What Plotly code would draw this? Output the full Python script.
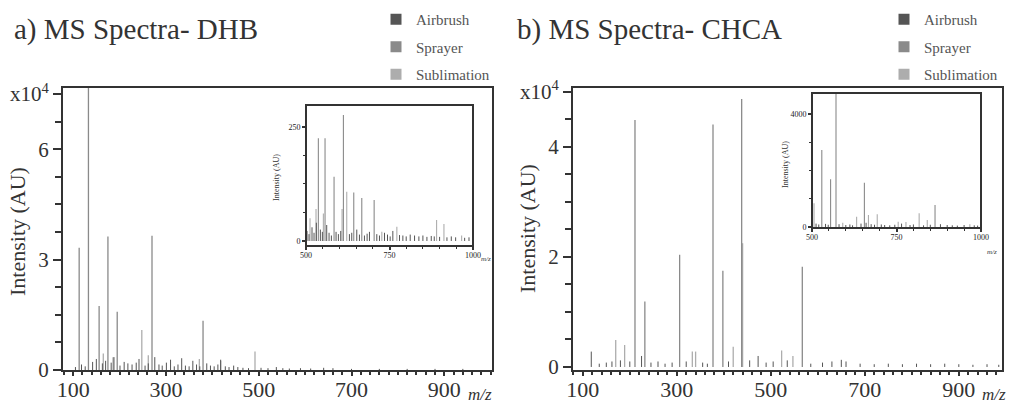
import plotly.graph_objects as go

W, H = 1012, 404
FONT = "Liberation Serif"
INK = "#333333"
C_AIR, C_SPR, C_SUB = "#555555", "#8a8a8a", "#adadad"

# ---------------- data (panel a: DHB, intensities x1e4) ----------------
a_spr_mz = [113, 133, 156, 175, 195, 270, 380]
a_spr_int = [3.32, 8.5, 1.74, 3.63, 1.58, 3.65, 1.34]
a_sub_mz = [165, 186, 248, 262, 492, 372, 418]
a_sub_int = [0.45, 0.35, 1.09, 0.40, 0.50, 0.30, 0.25]
a_air_mz = [105, 118, 126, 142, 150, 163, 170, 182, 188, 201, 210, 218, 227, 236, 242,
            255, 262, 276, 285, 292, 301, 310, 318, 326, 334, 342, 350, 358, 366, 373,
            388, 396, 404, 412, 418, 428, 436, 446, 455, 466, 478, 505, 520, 538, 552,
            566, 590, 612, 640, 660, 700, 760, 820, 880, 940]
a_air_int = [0.08, 0.15, 0.10, 0.22, 0.30, 0.18, 0.25, 0.20, 0.35, 0.12, 0.22, 0.18, 0.15, 0.20, 0.30,
             0.12, 0.18, 0.35, 0.15, 0.12, 0.20, 0.28, 0.10, 0.15, 0.32, 0.12, 0.10, 0.25, 0.15, 0.10,
             0.18, 0.12, 0.10, 0.15, 0.28, 0.10, 0.08, 0.12, 0.08, 0.06, 0.05, 0.06, 0.05, 0.08, 0.05,
             0.04, 0.05, 0.04, 0.06, 0.05, 0.03, 0.03, 0.03, 0.03, 0.03]

# inset a (absolute intensity, 500-1000)
ia_spr_mz = [537, 557, 584, 612, 643, 667, 704]
ia_spr_int = [225, 225, 141, 276, 106, 94, 90]
ia_sub_mz = [512, 530, 552, 608, 622, 727, 772, 891, 913, 966]
ia_sub_int = [50, 70, 60, 70, 108, 20, 31, 46, 37, 12]
ia_air_mz = [503, 509, 518, 524, 531, 543, 549, 562, 569, 576, 590, 597, 604, 630, 637,
             652, 660, 675, 683, 690, 712, 720, 735, 744, 752, 760, 780, 790, 800, 812,
             825, 838, 850, 862, 875, 884, 900, 922, 935, 948, 975, 988]
ia_air_int = [22, 15, 30, 18, 40, 25, 20, 35, 18, 12, 20, 15, 22, 15, 18,
              25, 14, 12, 16, 20, 15, 12, 18, 14, 10, 22, 13, 12, 10, 14,
              12, 10, 12, 9, 11, 10, 9, 8, 10, 8, 7, 8]

# ---------------- data (panel b: CHCA, intensities x1e4) ----------------
b_spr_mz = [211, 232, 306, 377, 398, 438, 567]
b_spr_int = [4.49, 1.19, 2.04, 4.41, 1.75, 4.87, 1.82]
b_sub_mz = [170, 189, 333, 340, 420, 440, 523, 547]
b_sub_int = [0.49, 0.40, 0.28, 0.28, 0.37, 2.25, 0.30, 0.20]
b_air_mz = [118, 135, 150, 162, 180, 200, 225, 245, 260, 275, 290, 320, 355, 365, 410,
            455, 473, 490, 505, 535, 585, 610, 630, 650, 660, 690, 720, 750, 780, 810,
            840, 870, 900, 930, 960, 985]
b_air_int = [0.28, 0.06, 0.08, 0.10, 0.12, 0.10, 0.20, 0.08, 0.10, 0.06, 0.08, 0.10, 0.08, 0.06, 0.10,
             0.12, 0.20, 0.08, 0.10, 0.12, 0.06, 0.08, 0.10, 0.13, 0.10, 0.06, 0.05, 0.06, 0.05, 0.06,
             0.05, 0.06, 0.05, 0.04, 0.05, 0.04]

# inset b (absolute intensity, 500-1000)
ib_spr_mz = [529, 555, 571, 655, 864]
ib_spr_int = [2725, 1690, 6000, 1570, 780]
ib_sub_mz = [506, 591, 632, 667, 693, 755, 778, 817, 841, 967]
ib_sub_int = [840, 150, 365, 425, 450, 190, 180, 485, 250, 100]
ib_air_mz = [512, 520, 540, 548, 580, 600, 612, 620, 645, 660, 675, 685, 705, 715, 730,
             745, 765, 790, 800, 830, 850, 880, 900, 915, 930, 950, 980, 990]
ib_air_int = [120, 90, 110, 80, 100, 70, 90, 60, 120, 150, 100, 80, 90, 70, 60,
              80, 120, 70, 90, 60, 80, 100, 70, 60, 50, 70, 60, 50]

series_names = ["Airbrush", "Sprayer", "Sublimation"]
series_colors = [C_AIR, C_SPR, C_SUB]


def sticks(mz, inten):
    xs, ys = [], []
    for m, v in zip(mz, inten):
        xs += [m, m, None]
        ys += [0, v, None]
    return xs, ys


fig = go.Figure()


def add_sticks(mz, inten, color, width, xa, ya):
    xs, ys = sticks(mz, inten)
    fig.add_trace(go.Scatter(x=xs, y=ys, mode="lines", line=dict(color=color, width=width),
                             xaxis=xa, yaxis=ya, showlegend=False, hoverinfo="skip"))


# panel a
add_sticks(a_sub_mz, a_sub_int, C_SUB, 1.3, "x", "y")
add_sticks(a_spr_mz, a_spr_int, C_SPR, 1.3, "x", "y")
add_sticks(a_air_mz, a_air_int, C_AIR, 1.0, "x", "y")
add_sticks(ia_sub_mz, ia_sub_int, C_SUB, 1.1, "x3", "y3")
add_sticks(ia_spr_mz, ia_spr_int, C_SPR, 1.1, "x3", "y3")
add_sticks(ia_air_mz, ia_air_int, C_AIR, 1.0, "x3", "y3")
# panel b
add_sticks(b_sub_mz, b_sub_int, C_SUB, 1.3, "x2", "y2")
add_sticks(b_spr_mz, b_spr_int, C_SPR, 1.3, "x2", "y2")
add_sticks(b_air_mz, b_air_int, C_AIR, 1.0, "x2", "y2")
add_sticks(ib_sub_mz, ib_sub_int, C_SUB, 1.1, "x4", "y4")
add_sticks(ib_spr_mz, ib_spr_int, C_SPR, 1.1, "x4", "y4")
add_sticks(ib_air_mz, ib_air_int, C_AIR, 1.0, "x4", "y4")

# legend entries
for leg, xa, ya in [("legend", "x", "y"), ("legend2", "x2", "y2")]:
    for name, col in zip(series_names, series_colors):
        fig.add_trace(go.Scatter(x=[None], y=[None], mode="markers", name=name,
                                 marker=dict(symbol="square", size=11, color=col),
                                 xaxis=xa, yaxis=ya, legend=leg, legendgroup=leg + name,
                                 showlegend=True))


def px_x(p):
    return p / W


def px_y(p):
    return 1 - p / H


frame = dict(showline=False, showgrid=False, zeroline=False, automargin=False,
             ticks="outside", tickcolor=INK, tickwidth=1.5)


def main_x(dom, rng, anchor):
    return dict(frame, domain=dom, range=rng, tickmode="array", tickvals=[100, 300, 500, 700, 900],
                ticklen=4, anchor=anchor, ticklabelstandoff=-5,
                tickfont=dict(family=FONT, size=22, color=INK),
                minor=dict(tickmode="linear", tick0=0, dtick=20, ticks="outside", ticklen=3,
                           tickwidth=1.5, tickcolor=INK))


def main_y(dom, rng, vals, texts, mdt, anchor):
    return dict(frame, domain=dom, range=rng, tickmode="array", tickvals=vals, ticktext=texts,
                ticklen=8, anchor=anchor, tickfont=dict(family=FONT, size=21, color=INK),
                minor=dict(tickmode="linear", tick0=0, dtick=mdt, ticks="outside", ticklen=6,
                           tickwidth=1.5, tickcolor=INK))


def inset_x(dom, anchor):
    return dict(frame, domain=dom, range=[500, 1000], tickmode="array", tickvals=[500, 750, 1000],
                ticklen=3, anchor=anchor, ticklabelstandoff=-2,
                tickfont=dict(family=FONT, size=8, color="#222222"),
                minor=dict(tickmode="linear", tick0=500, dtick=50, ticks="outside", ticklen=2,
                           tickwidth=1.2, tickcolor=INK))


def inset_y(dom, rng, vals, mdt, anchor):
    return dict(frame, domain=dom, range=rng, tickmode="array", tickvals=vals, ticklen=3,
                anchor=anchor, tickfont=dict(family=FONT, size=8, color="#222222"),
                minor=dict(tickmode="linear", tick0=0, dtick=mdt, ticks="outside", ticklen=2,
                           tickwidth=1.2, tickcolor=INK))


ydom = [px_y(371), px_y(87)]
fig.update_layout(
    template="none",
    width=W, height=H, margin=dict(l=0, r=0, t=0, b=0, pad=0, autoexpand=False), autosize=False,
    plot_bgcolor="white", paper_bgcolor="white",
    font=dict(family=FONT, color=INK),
    xaxis=main_x([px_x(62), px_x(493)], [76, 1005], "y"),
    yaxis=main_y(ydom, [-0.027, 7.69], [0, 3, 6, 7.5], ["0", "3", "6", "x10<sup>4</sup>"], 0.75, "x"),
    xaxis2=main_x([px_x(572), px_x(1003)], [77, 994], "y2"),
    yaxis2=main_y(ydom, [-0.073, 5.09], [0, 2, 4, 5], ["0", "2", "4", "x10<sup>4</sup>"], 0.5, "x2"),
    xaxis3=inset_x([px_x(306), px_x(473)], "y3"),
    yaxis3=inset_y([px_y(246), px_y(105)], [-11, 298], [0, 250], 62.5, "x3"),
    xaxis4=inset_x([px_x(812), px_x(981)], "y4"),
    yaxis4=inset_y([px_y(228), px_y(93)], [-35, 4743], [0, 4000], 1000, "x4"),
    legend=dict(x=px_x(376), y=px_y(3), xanchor="left", yanchor="top", bgcolor="rgba(0,0,0,0)",
                font=dict(family=FONT, size=15, color="#555555"), tracegroupgap=5, itemwidth=30),
    legend2=dict(x=px_x(884), y=px_y(3), xanchor="left", yanchor="top", bgcolor="rgba(0,0,0,0)",
                 font=dict(family=FONT, size=15, color="#555555"), tracegroupgap=5, itemwidth=30),
)

# frames drawn around each plotting area
shapes = []
for xa, ya in [("x", "y"), ("x2", "y2"), ("x3", "y3"), ("x4", "y4")]:
    shapes.append(dict(type="rect", xref=f"{xa} domain", yref=f"{ya} domain", x0=0, x1=1, y0=0, y1=1,
                       line=dict(color=INK, width=2), fillcolor="rgba(0,0,0,0)", layer="above"))
fig.update_layout(shapes=shapes)

ann = []
ann.append(dict(text="a) MS Spectra- DHB", x=px_x(12), y=px_y(30), xanchor="left", yanchor="middle",
                font=dict(family=FONT, size=29, color=INK)))
ann.append(dict(text="b) MS Spectra- CHCA", x=px_x(515), y=px_y(30), xanchor="left", yanchor="middle",
                font=dict(family=FONT, size=29, color=INK)))
ann.append(dict(text="Intensity (AU)", x=px_x(18), y=px_y(232), textangle=-90, xanchor="center",
                yanchor="middle", font=dict(family=FONT, size=22, color=INK)))
ann.append(dict(text="Intensity (AU)", x=px_x(528), y=px_y(229), textangle=-90, xanchor="center",
                yanchor="middle", font=dict(family=FONT, size=22, color=INK)))
ann.append(dict(text="<i>m/z</i>", x=px_x(480), y=px_y(394), xanchor="center", yanchor="middle",
                font=dict(family=FONT, size=17, color=INK)))
ann.append(dict(text="<i>m/z</i>", x=px_x(994), y=px_y(394), xanchor="center", yanchor="middle",
                font=dict(family=FONT, size=17, color=INK)))
ann.append(dict(text="Intensity (AU)", x=px_x(277), y=px_y(178), textangle=-90, xanchor="center",
                yanchor="middle", font=dict(family=FONT, size=8, color=INK)))
ann.append(dict(text="Intensity (AU)", x=px_x(786), y=px_y(165), textangle=-90, xanchor="center",
                yanchor="middle", font=dict(family=FONT, size=8, color=INK)))
ann.append(dict(text="<i>m/z</i>", x=px_x(486), y=px_y(259), xanchor="center", yanchor="middle",
                font=dict(family=FONT, size=7, color=INK)))
ann.append(dict(text="<i>m/z</i>", x=px_x(992), y=px_y(252), xanchor="center", yanchor="middle",
                font=dict(family=FONT, size=7, color=INK)))
for a in ann:
    a.update(xref="paper", yref="paper", showarrow=False)
fig.update_layout(annotations=ann)

fig.write_html("out.html",
               post_script="document.body.style.margin='0px';document.body.style.overflow='hidden';")
